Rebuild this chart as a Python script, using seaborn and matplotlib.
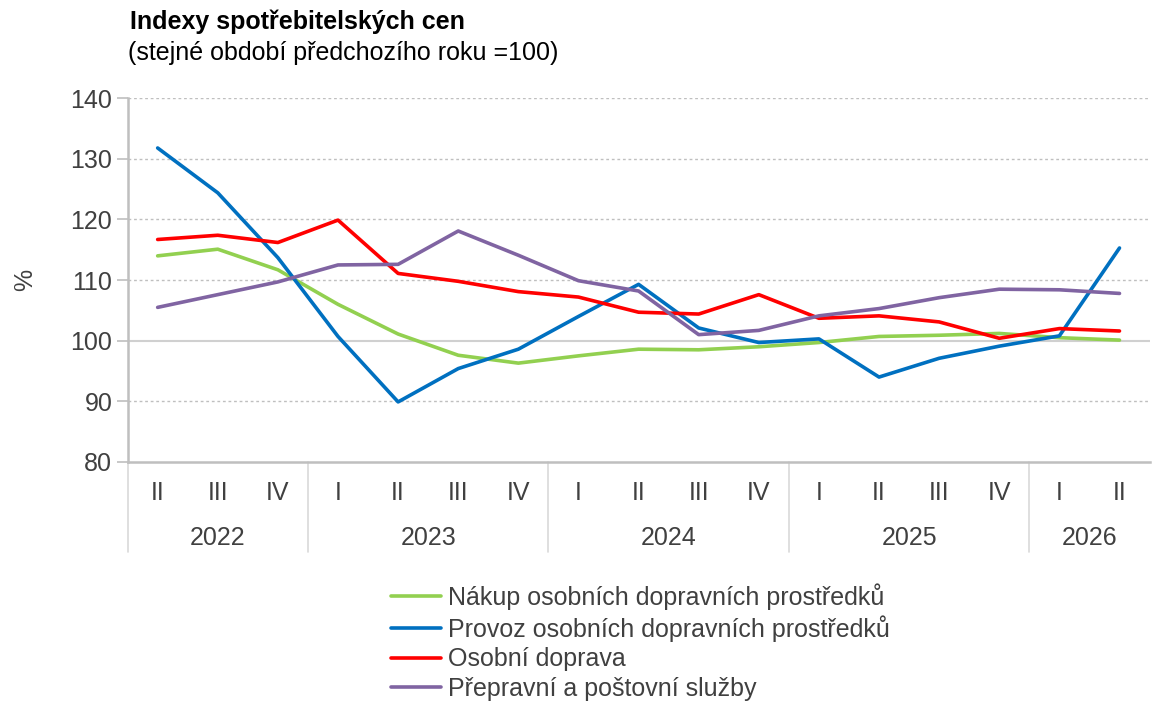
import matplotlib
matplotlib.use("Agg")
import matplotlib.pyplot as plt
import matplotlib.transforms as mtransforms
import pandas as pd
import seaborn as sns

quarters = ["II", "III", "IV", "I", "II", "III", "IV", "I", "II", "III", "IV",
            "I", "II", "III", "IV", "I", "II"]
years = ["2022", "2023", "2024", "2025", "2026"]
year_len = [3, 4, 4, 4, 2]

nakup = [114.0, 115.1, 111.7, 106.0, 101.1, 97.6, 96.3, 97.5, 98.6, 98.5,
         99.0, 99.7, 100.7, 100.9, 101.2, 100.5, 100.1]
provoz = [131.8, 124.4, 113.7, 100.7, 89.9, 95.4, 98.6, 104.0, 109.3, 102.1,
          99.7, 100.3, 94.0, 97.1, 99.1, 100.8, 115.3]
doprava = [116.7, 117.4, 116.2, 119.9, 111.1, 109.8, 108.1, 107.2, 104.7,
           104.4, 107.6, 103.7, 104.1, 103.1, 100.4, 102.0, 101.6]
sluzby = [105.5, 107.6, 109.7, 112.5, 112.6, 118.1, 114.1, 109.9, 108.2,
          101.0, 101.7, 104.1, 105.3, 107.1, 108.5, 108.4, 107.8]

series = {
    "Nákup osobních dopravních prostředků": nakup,
    "Provoz osobních dopravních prostředků": provoz,
    "Osobní doprava": doprava,
    "Přepravní a poštovní služby": sluzby,
}
colors = ["#92D050", "#0070C0", "#FF0000", "#8064A2"]

rows = []
for name, vals in series.items():
    for i, v in enumerate(vals):
        rows.append({"x": i, "value": v, "series": name})
df = pd.DataFrame(rows)

sns.set_style("white")
plt.rcParams["font.family"] = ["Liberation Sans", "DejaVu Sans"]
txt = "#404040"
grey = "#BFBFBF"
fs = 18

fig = plt.figure(figsize=(11.6, 7.02), dpi=100)
ax = fig.add_axes([0.110, 0.342, 0.881, 0.518])

sns.lineplot(data=df, x="x", y="value", hue="series", palette=colors,
             linewidth=2.6, ax=ax, legend=True)

ax.set_xlim(-0.5, len(quarters) - 0.5)
ax.set_ylim(80, 140)
ax.set_yticks(range(80, 141, 10))
for y in [90, 110, 120, 130, 140]:
    ax.axhline(y, color=grey, lw=1, ls=(0, (2, 2)), zorder=0)
ax.axhline(100, color="#D0D0D0", lw=1.5, zorder=0)

for s in ["top", "right"]:
    ax.spines[s].set_visible(False)
for s in ["left", "bottom"]:
    ax.spines[s].set_color(grey)
    ax.spines[s].set_linewidth(1.8)

ax.tick_params(axis="y", colors=grey, labelcolor=txt, labelsize=fs,
               length=8, width=1.2, direction="out", pad=3, left=True)
ax.set_xticks(range(len(quarters)))
ax.set_xticklabels(quarters)
ax.tick_params(axis="x", length=0, labelsize=fs, labelcolor=txt, pad=14)
ax.set_xlabel("")
ax.set_ylabel("%", fontsize=fs, color=txt, labelpad=24)

trans = mtransforms.blended_transform_factory(ax.transData, ax.transAxes)
start = 0
bounds = [-0.5]
for yr, n in zip(years, year_len):
    mid = start + (n - 1) / 2
    ax.text(mid, -0.208, yr, transform=trans, ha="center", va="center",
            fontsize=fs, color=txt)
    start += n
    bounds.append(start - 0.5)
for b in bounds[:-1]:
    ax.plot([b, b], [0, -0.248], transform=trans, color="#D9D9D9", lw=1.2,
            clip_on=False)

handles, labels = ax.get_legend_handles_labels()
ax.legend_.remove()
leg = fig.legend(handles, labels, loc="upper left",
                 bbox_to_anchor=(0.3285, 1 - 573 / 702), frameon=False,
                 fontsize=fs, handlelength=2.0, handletextpad=0.28,
                 labelspacing=0.22, borderaxespad=0)
for t in leg.get_texts():
    t.set_color(txt)

fig.text(0.112, 1 - 22 / 702, "Indexy spotřebitelských cen", fontsize=fs,
         fontweight="bold", ha="left", va="center", color="black")
fig.text(0.110, 1 - 53 / 702, "(stejné období předchozího roku =100)",
         fontsize=fs, ha="left", va="center", color="black")

fig.savefig("out.png", dpi=100)
